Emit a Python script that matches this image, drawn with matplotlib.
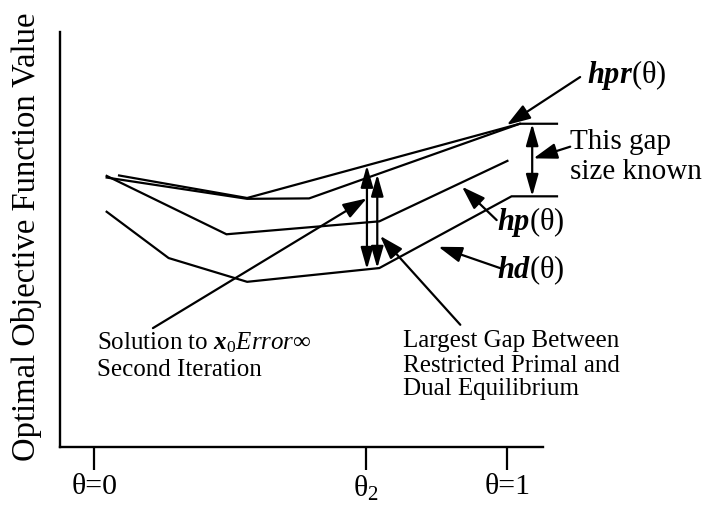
import numpy as np
import matplotlib.pyplot as plt

plt.rcParams['font.family'] = ['Liberation Serif', 'DejaVu Serif']
plt.rcParams['mathtext.fontset'] = 'custom'
plt.rcParams['mathtext.rm'] = 'Liberation Serif'
plt.rcParams['mathtext.it'] = 'Liberation Serif:italic'
plt.rcParams['mathtext.bf'] = 'Liberation Serif:bold'
plt.rcParams['mathtext.bfit'] = 'Liberation Serif:bold:italic'

# piecewise-linear objective curves over theta
theta_hpr = [0.06, 0.37, 1.03, 1.12]
hpr = [6.51, 5.97, 7.75, 7.75]

theta_iter2 = [0.03, 0.37, 0.52, 1.03]
iter2 = [6.46, 5.95, 5.96, 7.75]

theta_hp = [0.03, 0.32, 0.69, 1.00]
hp = [6.50, 5.10, 5.41, 6.86]

theta_hd = [0.03, 0.18, 0.37, 0.69, 1.01, 1.12]
hd = [5.64, 4.53, 3.96, 4.29, 6.01, 6.01]

tick_pos = [0, 0.657, 1]
tick_labels = [r'θ=0', r'$\mathrm{θ}_2$', r'θ=1']

# where the gap arrows stand
theta_gap1 = 0.66
theta_gap2 = 0.685
theta_known = 1.06

fig = plt.figure(figsize=(7.14, 5.12), dpi=100)
ax = fig.add_axes([0.084, 0.127, 0.677, 0.8105])

lw = 1.6
for xs, ys in [(theta_hpr, hpr), (theta_iter2, iter2), (theta_hp, hp), (theta_hd, hd)]:
    ax.plot(xs, ys, color='black', lw=lw, clip_on=False, solid_joinstyle='miter')

ax.set_xlim(-0.083, 1.087)
ax.set_ylim(0, 9.95)

for s in ['top', 'right']:
    ax.spines[s].set_visible(False)
for s in ['left', 'bottom']:
    ax.spines[s].set_linewidth(1.7)

ax.set_xticks(tick_pos)
ax.set_xticklabels(tick_labels, fontsize=21.5)
ax.tick_params(axis='x', direction='out', length=16.5, width=1.6, pad=3)
ax.set_yticks([])
ax.set_ylabel('Optimal Objective Function Value', fontsize=23.5)
ax.yaxis.set_label_coords(-0.037, 0.507)

dbl = dict(arrowstyle='<|-|>,head_length=0.6,head_width=0.17', color='black',
           lw=lw, mutation_scale=22, shrinkA=0, shrinkB=0)
one = dict(arrowstyle='-|>,head_length=0.6,head_width=0.2', color='black',
           lw=lw, mutation_scale=24, shrinkA=0, shrinkB=0)

# gap arrows between the dual curve and the primal curves
ax.annotate('', xy=(theta_gap1, np.interp(theta_gap1, theta_hpr, hpr)),
            xytext=(theta_gap1, np.interp(theta_gap1, theta_hd, hd)),
            arrowprops=dbl, annotation_clip=False)
ax.annotate('', xy=(theta_gap2, np.interp(theta_gap2, theta_iter2, iter2)),
            xytext=(theta_gap2, np.interp(theta_gap2, theta_hd, hd)),
            arrowprops=dbl, annotation_clip=False)
ax.annotate('', xy=(theta_known, np.interp(theta_known, theta_hpr, hpr)),
            xytext=(theta_known, np.interp(theta_known, theta_hd, hd)),
            arrowprops=dbl, annotation_clip=False)

# curve labels
ax.annotate('', xy=(0.9985, 7.72), xytext=(1.176, 8.87), arrowprops=one, annotation_clip=False)
ax.text(1.192, 8.92, r'$\mathbfit{hpr}$(θ)', fontsize=22, va='center', ha='left')

ax.annotate('', xy=(0.89, 6.24), xytext=(0.974, 5.44), arrowprops=one, annotation_clip=False)
ax.text(0.974, 5.40, r'$\mathbfit{hp}$(θ)', fontsize=22, va='center', ha='left')

ax.annotate('', xy=(0.833, 4.80), xytext=(0.982, 4.29), arrowprops=one, annotation_clip=False)
ax.text(0.975, 4.25, r'$\mathbfit{hd}$(θ)', fontsize=22, va='center', ha='left')

ax.annotate('', xy=(1.063, 6.92), xytext=(1.152, 7.20), arrowprops=one, annotation_clip=False)
ax.text(1.152, 7.15, 'This gap', fontsize=21, va='baseline', ha='left')
ax.text(1.152, 6.43, 'size known', fontsize=21, va='baseline', ha='left')

ax.annotate('', xy=(0.6596, 5.96), xytext=(0.142, 2.85), arrowprops=one, annotation_clip=False)
ax.text(0.006, 2.33, r'Solution to $\mathbfit{x}_0\mathit{Error}$∞', fontsize=18, va='baseline', ha='left')
ax.text(0.006, 1.70, 'Second Iteration', fontsize=18, va='baseline', ha='left')

ax.annotate('', xy=(0.692, 5.06), xytext=(0.886, 2.93), arrowprops=one, annotation_clip=False)
ax.text(0.748, 2.40, 'Largest Gap Between', fontsize=18, va='baseline', ha='left')
ax.text(0.748, 1.80, 'Restricted Primal and', fontsize=18, va='baseline', ha='left')
ax.text(0.748, 1.25, 'Dual Equilibrium', fontsize=18, va='baseline', ha='left')

fig.savefig('out.png', dpi=100)
